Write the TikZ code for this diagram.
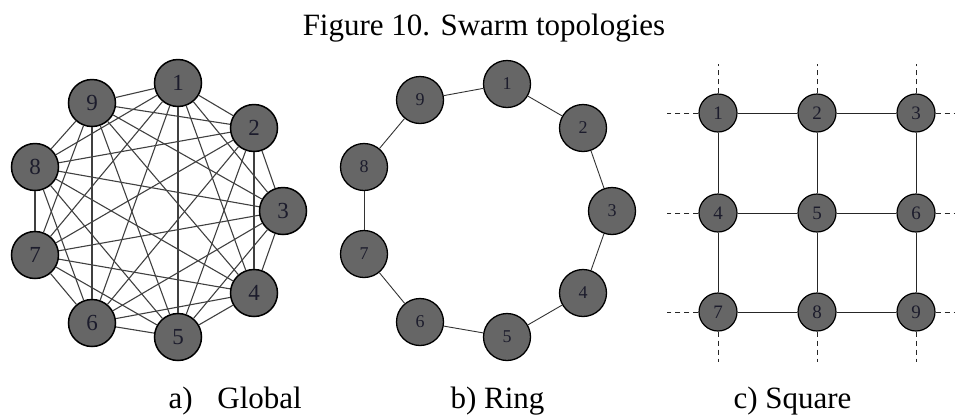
\documentclass[tikz,border=0pt]{standalone}
\usepackage{fontspec}
\setmainfont{Liberation Serif}
\usetikzlibrary{positioning}
\usepackage{xcolor}
\definecolor{nodegray}{HTML}{666666}
\definecolor{numcolor}{HTML}{1C1C2C}

\tikzset{
  agent/.style={circle, draw=black, fill=nodegray, inner sep=0pt, line width=1.5pt, text=numcolor},
  bigagent/.style={agent, minimum size=47pt, font=\fontsize{23}{23}\selectfont},
  ringagent/.style={agent, minimum size=47pt, line width=1.3pt, font=\fontsize{18}{18}\selectfont},
  gridagent/.style={agent, minimum size=38pt, line width=1.2pt, font=\fontsize{19}{19}\selectfont},
  link/.style={draw=black!75, line width=1.1pt},
  ringlink/.style={draw=black!80, line width=0.9pt},
  gridlink/.style={draw=black!85, line width=0.9pt},
  stub/.style={draw=black!85, line width=0.9pt, dash pattern=on 5pt off 4pt},
  caption/.style={anchor=base west, font=\fontsize{31}{31}\selectfont}
}

\begin{document}
\begin{tikzpicture}[x=1pt,y=-1pt]
  \useasboundingbox (0,0) rectangle (958,416);
  \node[anchor=base, font=\fontsize{31}{31}\selectfont] (title) at (484,35) {Figure 10. Swarm topologies};

  % a) Global
  \foreach \i/\px/\py in {1/178/83, 2/254/128, 3/283/211, 4/254/293, 5/178/337,
                          6/92/323, 7/35/255, 8/35/167, 9/92/103} {
    \node[bigagent] (g\i) at (\px,\py) {\i};
  }
  \foreach \i in {1,...,8} {
    \pgfmathtruncatemacro\nxt{\i+1}
    \foreach \j in {\nxt,...,9} {
      \draw[link] (g\i) -- (g\j);
    }
  }
  \node[caption] (capa) at (165,408) {a)\hspace{0.8em}Global};

  % b) Ring
  \foreach \i/\px/\py in {1/507/84, 2/583/128, 3/612/211, 4/583/293, 5/507/337,
                          6/420/322, 7/364/254, 8/364/167, 9/420/100} {
    \node[ringagent] (r\i) at (\px,\py) {\i};
  }
  \foreach \i/\j in {1/2, 2/3, 3/4, 4/5, 5/6, 6/7, 7/8, 8/9, 9/1} {
    \draw[ringlink] (r\i) -- (r\j);
  }
  \node[caption] (capb) at (447,408) {b) Ring};

  % c) Square
  \foreach \i/\px/\py in {1/718/113, 2/817/113, 3/916/113,
                          4/718/213, 5/817/213, 6/916/213,
                          7/718/312, 8/817/312, 9/916/312} {
    \node[gridagent] (s\i) at (\px,\py) {\i};
  }
  \foreach \i/\j in {1/2, 2/3, 4/5, 5/6, 7/8, 8/9, 1/4, 4/7, 2/5, 5/8, 3/6, 6/9} {
    \draw[gridlink] (s\i) -- (s\j);
  }
  % open ends of the lattice
  \foreach \i/\px/\py in {1/667/113, 4/667/213, 7/667/312} {
    \coordinate (w\i) at (\px,\py);
    \draw[stub] (s\i) -- (w\i);
  }
  \foreach \i/\px/\py in {3/955/113, 6/955/213, 9/955/312} {
    \coordinate (e\i) at (\px,\py);
    \draw[stub] (s\i) -- (e\i);
  }
  \foreach \i/\px/\py in {1/718/64, 2/817/64, 3/916/64} {
    \coordinate (n\i) at (\px,\py);
    \draw[stub] (s\i) -- (n\i);
  }
  \foreach \i/\px/\py in {7/718/362, 8/817/362, 9/916/362} {
    \coordinate (b\i) at (\px,\py);
    \draw[stub] (s\i) -- (b\i);
  }
  \node[caption] (capc) at (730,408) {c) Square};
\end{tikzpicture}
\end{document}
